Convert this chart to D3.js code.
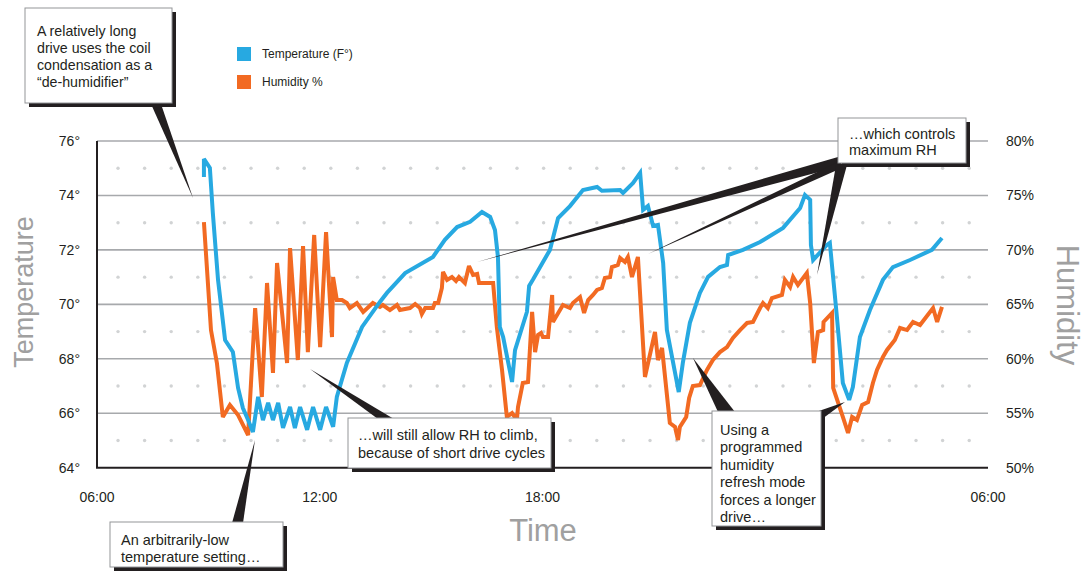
<!DOCTYPE html>
<html>
<head>
<meta charset="utf-8">
<script src="https://cdn.jsdelivr.net/npm/d3@7"></script>
<style>
  html, body { margin: 0; padding: 0; background: #fff; }
  svg { display: block; font-family: "Liberation Sans", Arial, sans-serif; }
</style>
</head>
<body>
<svg id="chart" width="1086" height="575"></svg>
<script>
// ---- data (hours since midnight; 24+ = next day) ----
const tempTimes = [8.88,8.88,9.04,9.12,9.26,9.45,9.66,9.80,9.93,10.07,10.20,10.34,10.47,10.61,10.74,10.88,11.01,11.20,11.33,11.47,11.66,11.82,12.01,12.17,12.36,12.46,12.73,13.14,13.62,13.81,14.30,15.05,15.37,15.70,16.05,16.37,16.59,16.72,16.80,16.85,16.94,17.18,17.26,17.58,17.64,17.74,18.20,18.42,18.74,19.09,19.47,19.60,20.09,20.17,20.44,20.63,20.71,20.84,20.98,21.11,21.25,21.35,21.67,21.78,21.97,22.24,22.46,22.78,22.97,23.00,23.40,23.86,24.48,24.94,25.07,25.21,25.23,25.29,25.66,25.74,25.93,26.09,26.26,26.36,26.55,26.82,27.17,27.44,27.90,28.49,28.76];
const tempValues = [74.68,75.34,75.01,73.36,70.90,68.69,68.25,66.93,66.19,65.75,65.31,66.60,65.75,66.38,65.75,66.38,65.46,66.23,65.46,66.23,65.39,66.23,65.39,66.23,65.50,66.60,67.85,69.17,70.09,70.42,71.15,71.74,72.37,72.84,73.03,73.39,73.21,72.73,71.74,69.17,68.80,67.15,68.32,69.72,70.68,70.90,72.00,73.17,73.61,74.20,74.31,74.17,74.20,74.09,74.46,74.83,73.47,73.61,72.88,72.92,71.52,69.06,66.78,67.85,69.32,70.42,71.01,71.37,71.45,71.81,72.00,72.29,72.81,73.54,74.02,73.84,72.18,71.63,72.18,72.26,69.54,67.11,66.49,66.96,68.80,69.79,70.90,71.37,71.63,72.00,72.44];

const humTimes = [8.88,9.07,9.23,9.39,9.58,9.80,10.07,10.26,10.44,10.58,10.74,10.85,11.12,11.20,11.41,11.55,11.68,11.85,12.01,12.17,12.33,12.36,12.46,12.60,12.73,12.81,13.00,13.17,13.43,13.62,13.70,13.89,14.08,14.16,14.43,14.57,14.70,14.75,14.84,15.05,15.10,15.19,15.29,15.32,15.43,15.56,15.67,15.75,15.91,16.02,16.13,16.24,16.29,16.67,16.77,16.91,17.04,17.18,17.31,17.34,17.47,17.61,17.72,17.80,17.88,17.96,18.01,18.15,18.26,18.28,18.55,18.74,18.82,19.01,19.12,19.23,19.36,19.47,19.60,19.68,19.82,19.87,20.03,20.09,20.22,20.30,20.41,20.57,20.76,21.03,21.11,21.22,21.43,21.57,21.65,21.70,21.87,21.95,22.05,22.24,22.43,22.59,22.78,22.97,23.13,23.32,23.51,23.67,23.86,23.94,24.07,24.18,24.45,24.53,24.67,24.75,24.88,25.12,25.21,25.31,25.42,25.56,25.57,25.80,25.83,26.09,26.23,26.34,26.47,26.61,26.77,26.90,27.01,27.17,27.28,27.49,27.63,27.82,27.98,28.17,28.52,28.63,28.76];
const humValues = [72.56,62.64,59.61,54.66,55.76,54.84,53.00,64.66,56.49,66.96,58.70,68.80,59.61,70.17,59.89,70.36,60.62,71.37,61.08,71.64,62.00,67.51,65.40,65.40,65.12,64.66,65.12,64.30,65.12,64.76,64.94,64.48,64.94,64.48,64.66,65.03,64.66,64.11,64.66,64.66,65.12,65.12,66.50,67.97,67.24,67.51,67.14,67.51,66.96,68.52,67.70,67.79,66.96,66.96,62.92,58.97,54.66,55.02,54.38,55.57,57.78,57.87,64.30,60.62,62.19,62.37,62.00,62.00,65.86,63.38,64.94,64.66,65.12,65.67,64.21,65.40,65.86,66.32,66.50,67.42,67.51,68.43,68.61,69.26,68.89,69.35,67.51,69.35,58.33,62.46,59.89,60.99,54.10,53.74,52.54,53.74,54.66,56.40,57.50,57.59,58.97,59.89,60.62,61.08,61.91,62.64,63.29,63.38,64.66,65.12,64.66,65.58,65.86,67.24,66.59,67.51,66.78,67.88,65.12,59.61,62.46,62.64,63.38,64.21,57.32,54.66,53.19,54.66,54.38,55.76,56.03,57.78,58.97,60.17,60.81,61.73,62.83,62.64,63.38,63.10,64.66,63.38,64.76];

const timeTicks = [6, 12, 18, 30];
const timeTickLabels = ["06:00", "12:00", "18:00", "06:00"];
const tempTicks = [64, 66, 68, 70, 72, 74, 76];
const humTicks = [50, 55, 60, 65, 70, 75, 80];
const dotTemps = [65, 67, 69, 71, 73, 75];

const legendLabels = ["Temperature (F°)", "Humidity %"];
const annotations = [
  { lines: ["A relatively long", "drive uses the coil", "condensation as a", "\u201Cde-humidifier\u201D"] },
  { lines: ["\u2026which controls", "maximum RH"] },
  { lines: ["\u2026will still allow RH to climb,", "because of short drive cycles"] },
  { lines: ["Using a", "programmed", "humidity", "refresh mode", "forces a longer", "drive\u2026"] },
  { lines: ["An arbitrarily-low", "temperature setting\u2026"] }
];

// ---- layout ----
const C_TEMP = "#27a9e1", C_HUM = "#f26a22", C_TXT = "#231f20", C_GRID = "#a7a9ac";
const svg = d3.select("#chart");
const x = d3.scaleLinear().domain([6, 30]).range([97, 988]);
const yT = d3.scaleLinear().domain([64, 76]).range([467.7, 141]);
const yH = d3.scaleLinear().domain([50, 80]).range([467.7, 141]);

// gridlines
svg.append("g").selectAll("line").data(tempTicks.slice(1)).join("line")
  .attr("x1", x(6)).attr("x2", x(30))
  .attr("y1", d => yT(d)).attr("y2", d => yT(d))
  .attr("stroke", C_GRID).attr("stroke-width", 1.6);

// dot rows
const dotXs = d3.range(x(6.566), x(29.8), 26.6);
const dg = svg.append("g");
dotTemps.forEach(t => {
  dg.selectAll(null).data(dotXs).join("circle")
    .attr("cx", d => d).attr("cy", yT(t)).attr("r", 1.7).attr("fill", "#d1d3d4");
});

// axes lines
svg.append("line").attr("x1", x(6)).attr("x2", x(6)).attr("y1", yT(76)).attr("y2", yT(64))
  .attr("stroke", C_TXT).attr("stroke-width", 2);
svg.append("line").attr("x1", x(6) - 1).attr("x2", x(30)).attr("y1", yT(64)).attr("y2", yT(64))
  .attr("stroke", C_TXT).attr("stroke-width", 2);

// tick labels
svg.append("g").selectAll("text").data(tempTicks).join("text")
  .attr("x", 80).attr("y", d => yT(d)).attr("dy", "0.35em").attr("text-anchor", "end")
  .attr("font-size", 14).attr("fill", C_TXT).text(d => d + "°");
svg.append("g").selectAll("text").data(humTicks).join("text")
  .attr("x", 1006).attr("y", d => yH(d)).attr("dy", "0.35em").attr("text-anchor", "start")
  .attr("font-size", 14).attr("fill", C_TXT).text(d => d + "%");
svg.append("g").selectAll("text").data(timeTicks).join("text")
  .attr("x", d => x(d)).attr("y", 497).attr("dy", "0.35em").attr("text-anchor", "middle")
  .attr("font-size", 14).attr("fill", C_TXT).text((d, i) => timeTickLabels[i]);

// axis titles
svg.append("text").attr("transform", "translate(33,292) rotate(-90)").attr("text-anchor", "middle")
  .attr("font-size", 27).attr("fill", "#a0a0a0").text("Temperature");
svg.append("text").attr("transform", "translate(1057,305) rotate(90)").attr("text-anchor", "middle")
  .attr("font-size", 31).attr("fill", "#a0a0a0").text("Humidity");
svg.append("text").attr("x", 543).attr("y", 541).attr("text-anchor", "middle")
  .attr("font-size", 31).attr("fill", "#a0a0a0").text("Time");

// series lines
const tempData = tempTimes.map((t, i) => [t, tempValues[i]]);
const humData = humTimes.map((t, i) => [t, humValues[i]]);
svg.append("path").datum(humData)
  .attr("d", d3.line().x(d => x(d[0])).y(d => yH(d[1])))
  .attr("fill", "none").attr("stroke", C_HUM).attr("stroke-width", 4).attr("stroke-linejoin", "miter").attr("stroke-miterlimit", 3);
svg.append("path").datum(tempData)
  .attr("d", d3.line().x(d => x(d[0])).y(d => yT(d[1])))
  .attr("fill", "none").attr("stroke", C_TEMP).attr("stroke-width", 4).attr("stroke-linejoin", "miter").attr("stroke-miterlimit", 3);

// legend
const lg = svg.append("g");
[C_TEMP, C_HUM].forEach((c, i) => {
  lg.append("rect").attr("x", 237).attr("y", 47 + i * 28).attr("width", 14).attr("height", 14).attr("fill", c);
  lg.append("text").attr("x", 262).attr("y", 54 + i * 28).attr("dy", "0.35em")
    .attr("font-size", 12).attr("fill", C_TXT).text(legendLabels[i]);
});

// annotation pointers (wedges)
const wedges = [
  [[151, 104], [161, 104], [193, 198]],
  [[838, 157], [842, 166], [477, 262]],
  [[840, 161], [844, 167], [648, 254]],
  [[836, 165], [847, 165], [817, 275]],
  [[378, 419], [394, 419], [310, 369]],
  [[718, 412], [735, 412], [693, 358]],
  [[813, 413], [822, 419], [845, 402]],
  [[232, 523], [243, 523], [255, 440]]
];
svg.append("g").selectAll("path").data(wedges).join("path")
  .attr("d", d => "M" + d.map(p => p.join(",")).join("L") + "Z")
  .attr("fill", C_TXT);

// annotation boxes
const boxes = [
  { x: 25, y: 8, w: 147, h: 95, tx: 37, ty: 31, lh: 17 },
  { x: 838, y: 118, w: 128, h: 45, tx: 849, ty: 134, lh: 16 },
  { x: 348, y: 418, w: 203, h: 50, tx: 358, ty: 435, lh: 18 },
  { x: 712, y: 411, w: 109, h: 115, tx: 720, ty: 430, lh: 17.4 },
  { x: 110, y: 522, w: 173, h: 45, tx: 121, ty: 540, lh: 17 }
];
boxes.forEach((b, i) => {
  const g = svg.append("g");
  g.append("rect").attr("x", b.x + 4).attr("y", b.y + 4).attr("width", b.w).attr("height", b.h).attr("fill", C_TXT);
  g.append("rect").attr("x", b.x).attr("y", b.y).attr("width", b.w).attr("height", b.h)
    .attr("fill", "#fff").attr("stroke", "#939598").attr("stroke-width", 1);
  g.selectAll("text").data(annotations[i].lines).join("text")
    .attr("x", b.tx).attr("y", (d, j) => b.ty + j * b.lh).attr("dy", "0.35em")
    .attr("font-size", i === 0 ? 14.2 : 14.5).attr("fill", C_TXT).text(d => d);
});
</script>
</body>
</html>
